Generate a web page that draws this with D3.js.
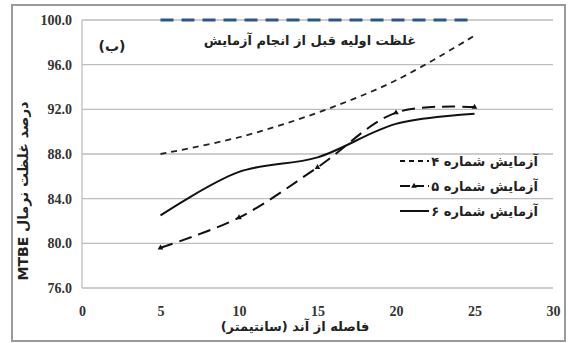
<!DOCTYPE html>
<html>
<head>
<meta charset="utf-8">
<script src="https://cdn.jsdelivr.net/npm/d3@7/dist/d3.min.js"></script>
<style>
  html, body { margin: 0; padding: 0; background: #fff; }
  svg { display: block; }
</style>
</head>
<body>
<svg id="chart" width="568" height="343"></svg>
<script>
// Distance from the anode (cm)
const distances = [5, 10, 15, 20, 25];
// Normalised MTBE concentration (%) per test run
const test4 = [88.0, 89.5, 91.7, 94.6, 98.6];
const test5 = [79.6, 82.3, 86.8, 91.7, 92.2];
const test6 = [82.5, 86.4, 87.7, 90.7, 91.6];
// Initial concentration before the test
const initial = [100.0, 100.0, 100.0, 100.0, 100.0];

const xTicks = [0, 5, 10, 15, 20, 25, 30];
const yTicks = [76, 80, 84, 88, 92, 96, 100];

const seriesNames = ["آزمایش شماره ۴", "آزمایش شماره ۵", "آزمایش شماره ۶"];
const initialLabel = "غلظت اولیه قبل از انجام آزمایش";
const panelLabel = "(ب)";
const xTitle = "فاصله از آند (سانتیمتر)";
const yTitle = "درصد غلظت نرمال MTBE";

const svg = d3.select("#chart");
const plot = { left: 82, right: 553, top: 20, bottom: 288 };

const x = d3.scaleLinear().domain([0, 30]).range([plot.left, plot.right]);
const y = d3.scaleLinear().domain([76, 100]).range([plot.bottom, plot.top]);

// outer frame
svg.append("rect")
  .attr("x", 12).attr("y", 5).attr("width", 553).attr("height", 336)
  .attr("fill", "none").attr("stroke", "#9a9a9a").attr("stroke-width", 2);

// horizontal gridlines
svg.append("g")
  .selectAll("line")
  .data(yTicks)
  .join("line")
  .attr("x1", plot.left).attr("x2", plot.right)
  .attr("y1", d => y(d)).attr("y2", d => y(d))
  .attr("stroke", "#bdbdbd").attr("stroke-width", 1.3);

// left axis line
svg.append("line")
  .attr("x1", plot.left).attr("x2", plot.left)
  .attr("y1", plot.top).attr("y2", plot.bottom)
  .attr("stroke", "#bdbdbd").attr("stroke-width", 1.3);

// y axis tick labels
const yAxis = d3.axisLeft(y).tickValues(yTicks).tickSize(0).tickPadding(10)
  .tickFormat(d3.format(".1f"));
svg.append("g")
  .attr("transform", `translate(${plot.left},0)`)
  .call(yAxis)
  .call(g => g.select(".domain").remove())
  .selectAll("text")
  .attr("font-family", "Liberation Serif")
  .attr("font-weight", "bold")
  .attr("font-size", 14)
  .attr("fill", "#333");

// x axis tick labels
const xAxis = d3.axisBottom(x).tickValues(xTicks).tickSize(0).tickPadding(18);
svg.append("g")
  .attr("transform", `translate(0,${plot.bottom})`)
  .call(xAxis)
  .call(g => g.select(".domain").remove())
  .selectAll("text")
  .attr("font-family", "Liberation Serif")
  .attr("font-weight", "bold")
  .attr("font-size", 14)
  .attr("fill", "#333");

const pts = vals => distances.map((d, i) => [d, vals[i]]);
const smooth = d3.line().x(d => x(d[0])).y(d => y(d[1])).curve(d3.curveCatmullRom.alpha(0.5));
const straight = d3.line().x(d => x(d[0])).y(d => y(d[1]));

// initial concentration
svg.append("path")
  .attr("d", straight(pts(initial)))
  .attr("fill", "none").attr("stroke", "#2d5687").attr("stroke-width", 3.2)
  .attr("stroke-dasharray", "13,8");

// test 4: short dashes
svg.append("path")
  .attr("d", smooth(pts(test4)))
  .attr("fill", "none").attr("stroke", "#222").attr("stroke-width", 1.8)
  .attr("stroke-dasharray", "6,5");

// test 5: long dashes with triangle markers
svg.append("path")
  .attr("d", smooth(pts(test5)))
  .attr("fill", "none").attr("stroke", "#111").attr("stroke-width", 2)
  .attr("stroke-dasharray", "13,7");
svg.append("g")
  .selectAll("path")
  .data(pts(test5))
  .join("path")
  .attr("transform", d => `translate(${x(d[0])},${y(d[1])})`)
  .attr("d", d3.symbol(d3.symbolTriangle, 14))
  .attr("fill", "#111");

// test 6: solid
svg.append("path")
  .attr("d", smooth(pts(test6)))
  .attr("fill", "none").attr("stroke", "#111").attr("stroke-width", 2);

// legend
const legendRows = [
  { name: seriesNames[0], dash: "5,4", marker: false, y: 161 },
  { name: seriesNames[1], dash: "10,4", marker: true, y: 186 },
  { name: seriesNames[2], dash: null, marker: false, y: 211 }
];
const lg = svg.append("g");
legendRows.forEach(r => {
  lg.append("line")
    .attr("x1", 400).attr("x2", 429).attr("y1", r.y).attr("y2", r.y)
    .attr("stroke", "#111").attr("stroke-width", 2)
    .attr("stroke-dasharray", r.dash);
  if (r.marker) {
    lg.append("path")
      .attr("transform", `translate(414,${r.y})`)
      .attr("d", d3.symbol(d3.symbolTriangle, 14))
      .attr("fill", "#111");
  }
  lg.append("text")
    .attr("x", 538).attr("y", r.y + 5)
    .attr("text-anchor", "end")
    .attr("font-family", "DejaVu Sans")
    .attr("font-weight", "bold")
    .attr("font-size", 13)
    .attr("fill", "#222")
    .text(r.name);
});

// annotations
svg.append("text")
  .attr("x", 310).attr("y", 45)
  .attr("text-anchor", "middle")
  .attr("font-family", "DejaVu Sans").attr("font-weight", "bold")
  .attr("font-size", 13).attr("fill", "#222")
  .text(initialLabel);

svg.append("text")
  .attr("x", 112).attr("y", 51)
  .attr("text-anchor", "middle")
  .attr("font-family", "DejaVu Sans").attr("font-weight", "bold")
  .attr("font-size", 14).attr("fill", "#222")
  .text(panelLabel);

// axis titles
svg.append("text")
  .attr("x", 295).attr("y", 331)
  .attr("text-anchor", "middle")
  .attr("direction", "rtl")
  .attr("font-family", "DejaVu Sans").attr("font-weight", "bold")
  .attr("font-size", 13).attr("fill", "#222")
  .text(xTitle);

svg.append("text")
  .attr("transform", "translate(28,191) rotate(-90)")
  .attr("text-anchor", "middle")
  .attr("direction", "rtl")
  .attr("font-family", "DejaVu Sans").attr("font-weight", "bold")
  .attr("font-size", 14).attr("fill", "#222")
  .text(yTitle);
</script>
</body>
</html>
